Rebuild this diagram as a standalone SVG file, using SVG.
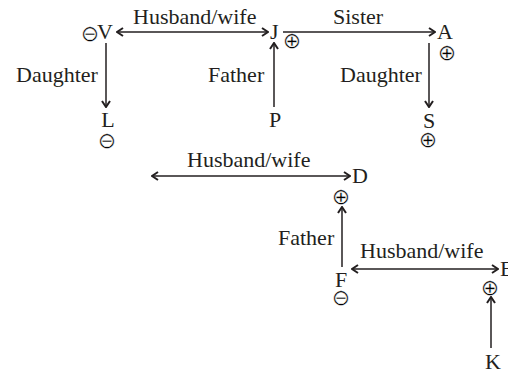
<svg xmlns="http://www.w3.org/2000/svg" width="508" height="372" viewBox="0 0 508 372">
<style>
text{font-family:'Liberation Serif','Times New Roman','DejaVu Serif',serif;font-size:22px;fill:#231f20}
.s{font-family:'DejaVu Sans',sans-serif;font-size:22px;text-anchor:middle;fill:#000;stroke:#fff;stroke-width:0.45}
.c line{stroke:#231f20;stroke-width:1.5;fill:none}
.m{text-anchor:middle}
</style>
<defs>
<marker id="a" viewBox="0 0 8 10" refX="7" refY="5" markerWidth="8" markerHeight="10" markerUnits="userSpaceOnUse" orient="auto-start-reverse">
<path d="M1,1 L7,5 L1,9" fill="none" stroke="#231f20" stroke-width="2"/>
</marker>
</defs>
<rect width="508" height="372" fill="#fff"/>
<g class="c" id="connectors">
<line x1="117" y1="32" x2="268" y2="32" marker-start="url(#a)" marker-end="url(#a)"/>
<line x1="283" y1="32" x2="435" y2="32" marker-end="url(#a)"/>
<line x1="106" y1="43" x2="106" y2="107" marker-end="url(#a)"/>
<line x1="274" y1="107" x2="274" y2="43" marker-end="url(#a)"/>
<line x1="429" y1="43" x2="429" y2="107" marker-end="url(#a)"/>
<line x1="152" y1="176" x2="350" y2="176" marker-start="url(#a)" marker-end="url(#a)"/>
<line x1="342" y1="267" x2="342" y2="207" marker-end="url(#a)"/>
<line x1="352" y1="269" x2="498" y2="269" marker-start="url(#a)" marker-end="url(#a)"/>
<line x1="491" y1="348" x2="491" y2="297" marker-end="url(#a)"/>
</g>
<g id="labels">
<text x="133" y="24">Husband/wife</text>
<text x="333" y="24">Sister</text>
<text x="16" y="82">Daughter</text>
<text x="208" y="82">Father</text>
<text x="340" y="82">Daughter</text>
<text x="187" y="167">Husband/wife</text>
<text x="278" y="245">Father</text>
<text x="360" y="258">Husband/wife</text>
</g>
<g id="V"><text class="s" x="90" y="41">⊖</text><text x="97" y="39">V</text></g>
<g id="J"><text x="270" y="39">J</text><text class="s" x="292" y="48">⊕</text></g>
<g id="A"><text x="437" y="39">A</text><text class="s" x="447" y="60">⊕</text></g>
<g id="L"><text class="m" x="108" y="127">L</text><text class="s" x="107" y="148">⊖</text></g>
<g id="P"><text class="m" x="275" y="127">P</text></g>
<g id="S"><text class="m" x="429" y="128">S</text><text class="s" x="428" y="147">⊕</text></g>
<g id="D"><text x="352" y="183">D</text><text class="s" x="341" y="204">⊕</text></g>
<g id="F"><text class="m" x="341" y="287">F</text><text class="s" x="341" y="305">⊖</text></g>
<g id="E"><text x="500" y="276">E</text><text class="s" x="490" y="295">⊕</text></g>
<g id="K"><text class="m" x="493" y="369">K</text></g>
</svg>
